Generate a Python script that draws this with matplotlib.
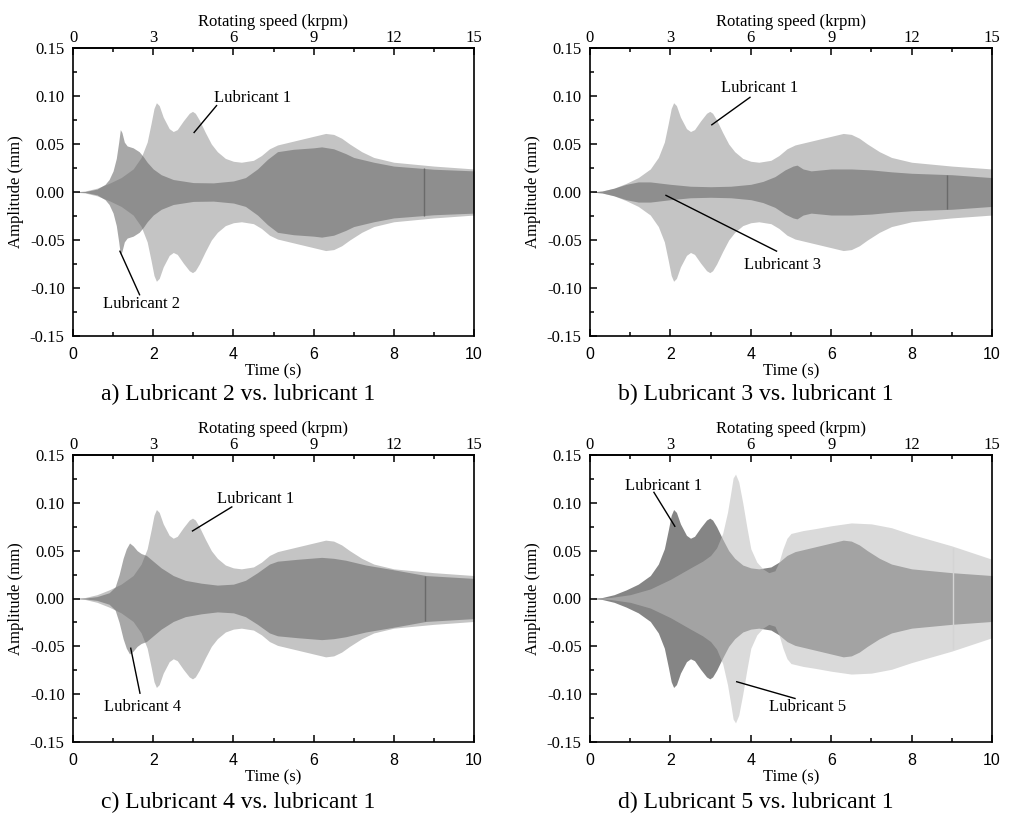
import numpy as np
import matplotlib
matplotlib.use("Agg")
from matplotlib import pyplot as plt
from matplotlib.ticker import MultipleLocator, FixedLocator

plt.rcParams['font.family'] = ['Liberation Serif', 'DejaVu Serif']
plt.rcParams['axes.unicode_minus'] = False

# envelope of the response (upper half, the plot is symmetric)
t_lub1 = [0, 0.3, 0.6, 0.9, 1.2, 1.5, 1.7, 1.85, 1.95, 2.02, 2.08, 2.15, 2.25, 2.4, 2.5,
          2.6, 2.75, 2.9, 2.98, 3.05, 3.15, 3.3, 3.45, 3.6, 3.8, 4.0, 4.2, 4.5, 4.7, 4.9,
          5.1, 5.4, 5.7, 6.0, 6.3, 6.5, 6.7, 6.9, 7.2, 7.5, 8.0, 8.5, 9.0, 9.5, 10.0]
amp_lub1 = [0, 0.001, 0.004, 0.009, 0.015, 0.024, 0.036, 0.052, 0.072, 0.087, 0.093, 0.09,
            0.078, 0.066, 0.063, 0.065, 0.074, 0.082, 0.084, 0.082, 0.075, 0.062, 0.05, 0.042,
            0.035, 0.032, 0.031, 0.033, 0.038, 0.045, 0.049, 0.052, 0.055, 0.058, 0.061, 0.060,
            0.056, 0.050, 0.042, 0.036, 0.031, 0.029, 0.027, 0.0255, 0.024]

t_lub2 = [0, 0.3, 0.6, 0.8, 0.9, 1.0, 1.08, 1.14, 1.18, 1.22, 1.28, 1.35, 1.5, 1.65, 1.75,
          1.85, 2.0, 2.2, 2.5, 3.0, 3.5, 4.0, 4.3, 4.6, 4.85, 5.1, 5.5, 6.0, 6.2, 6.5, 6.8,
          7.0, 7.5, 8.0, 9.0, 10.0]
amp_lub2 = [0, 0.0005, 0.003, 0.008, 0.013, 0.022, 0.035, 0.052, 0.065, 0.062, 0.052, 0.048,
            0.046, 0.042, 0.037, 0.031, 0.024, 0.018, 0.013, 0.0098, 0.0095, 0.0115, 0.015,
            0.024, 0.034, 0.042, 0.0445, 0.046, 0.047, 0.045, 0.040, 0.036, 0.031, 0.027,
            0.0237, 0.022]

t_lub3 = [0, 0.3, 0.6, 0.9, 1.2, 1.5, 2.0, 2.5, 3.0, 3.5, 4.0, 4.3, 4.6, 4.85, 5.05, 5.15,
          5.3, 5.5, 6.0, 6.5, 7.0, 7.5, 8.0, 9.0, 10.0]
amp_lub3 = [0, 0.001, 0.004, 0.008, 0.0105, 0.0105, 0.008, 0.006, 0.0055, 0.006, 0.008,
            0.011, 0.016, 0.023, 0.027, 0.028, 0.024, 0.022, 0.024, 0.024, 0.023, 0.021,
            0.0195, 0.018, 0.015]

t_lub4 = [0, 0.3, 0.6, 0.9, 1.05, 1.15, 1.25, 1.33, 1.41, 1.5, 1.6, 1.7, 1.83, 2.0, 2.2,
          2.5, 2.8, 3.2, 3.6, 4.0, 4.3, 4.6, 4.9, 5.1, 5.6, 6.2, 6.5, 6.8, 7.3, 8.0, 8.8, 10.0]
amp_lub4 = [0, 0.0005, 0.002, 0.006, 0.012, 0.025, 0.042, 0.052, 0.058, 0.055, 0.05, 0.047,
            0.045, 0.039, 0.032, 0.024, 0.019, 0.016, 0.014, 0.015, 0.019, 0.027, 0.036,
            0.039, 0.041, 0.043, 0.042, 0.040, 0.035, 0.030, 0.024, 0.021]

t_lub5 = [0, 0.5, 1.0, 1.5, 2.0, 2.5, 2.8, 3.0, 3.15, 3.3, 3.42, 3.5, 3.56, 3.62, 3.7, 3.8,
          3.9, 4.0, 4.15, 4.3, 4.45, 4.6, 4.7, 4.8, 4.9, 5.0, 5.3, 5.6, 6.0, 6.5, 7.0, 7.5,
          8.0, 8.5, 9.0, 9.5, 10.0]
amp_lub5 = [0, 0.001, 0.004, 0.01, 0.02, 0.032, 0.039, 0.045, 0.053, 0.068, 0.09, 0.11,
            0.126, 0.13, 0.122, 0.1, 0.075, 0.052, 0.038, 0.031, 0.027, 0.029, 0.038, 0.052,
            0.063, 0.068, 0.071, 0.073, 0.076, 0.079, 0.078, 0.074, 0.067, 0.061, 0.055,
            0.048, 0.041]

# short spike in each record (time, half height)
glitch_t = [8.75, 8.88, 8.78, 9.03]
glitch_amp = [0.025, 0.018, 0.024, 0.053]

captions = ["a) Lubricant 2 vs. lubricant 1", "b) Lubricant 3 vs. lubricant 1",
            "c) Lubricant 4 vs. lubricant 1", "d) Lubricant 5 vs. lubricant 1"]
others = [(t_lub2, amp_lub2, "Lubricant 2"), (t_lub3, amp_lub3, "Lubricant 3"),
          (t_lub4, amp_lub4, "Lubricant 4"), (t_lub5, amp_lub5, "Lubricant 5")]

# label positions / leader lines: (text x, text y, line x0, y0, x1, y1)
lab1 = [(4.49, 0.098, 3.02, 0.062, 3.58, 0.090),
        (4.21, 0.108, 3.03, 0.070, 3.98, 0.0986),
        (4.55, 0.1037, 2.98, 0.0706, 3.96, 0.0957),
        (1.82, 0.118, 2.11, 0.0755, 1.59, 0.111)]
lab2 = [(1.72, -0.117, 1.17, -0.0617, 1.66, -0.107),
        (4.80, -0.076, 1.89, -0.0035, 4.64, -0.0616),
        (1.73, -0.113, 1.44, -0.052, 1.67, -0.099),
        (5.40, -0.113, 3.65, -0.087, 5.10, -0.1045)]

W, H = 1013, 814
fig = plt.figure(figsize=(W / 100, H / 100), dpi=100)
boxes = [(73, 48, 474, 336), (590, 48, 992, 336), (73, 455, 474, 742), (590, 455, 992, 742)]
cap_pos = [(238, 394), (756, 394), (238, 802), (756, 802)]
fs = 12

for i in range(4):
    l, t, r, b = boxes[i]
    ax = fig.add_axes([l / W, 1 - b / H, (r - l) / W, (b - t) / H])
    tt, aa, name = others[i]
    if i < 3:
        ax.fill_between(t_lub1, -np.array(amp_lub1), amp_lub1, color='#c4c4c4', lw=0)
        ax.fill_between(tt, -np.array(aa), aa, color='#646464', alpha=0.56, lw=0)
        ax.vlines(glitch_t[i], -glitch_amp[i], glitch_amp[i], color='#6a6a6a', lw=1)
    else:
        ax.fill_between(t_lub1, -np.array(amp_lub1), amp_lub1, color='#858585', lw=0)
        ax.fill_between(tt, -np.array(aa), aa, color='#bcbcbc', alpha=0.55, lw=0)
        ax.vlines(glitch_t[i], -glitch_amp[i], glitch_amp[i], color='#d4d4d4', lw=1)

    ax.set_xlim(0, 10)
    ax.set_ylim(-0.15, 0.15)
    ax.xaxis.set_major_locator(MultipleLocator(2))
    ax.xaxis.set_minor_locator(MultipleLocator(1))
    ax.yaxis.set_major_locator(MultipleLocator(0.05))
    ax.yaxis.set_minor_locator(MultipleLocator(0.025))
    ax.set_yticks(ax.get_yticks())
    ax.set_ylim(-0.15, 0.15)
    ax.set_yticklabels(['%.2f' % v for v in ax.get_yticks()])
    ax.tick_params(which='both', direction='in', width=1.1, top=False, right=False)
    ax.tick_params(which='major', length=5)
    ax.tick_params(which='minor', length=3)
    ax.tick_params(axis='y', labelsize=fs, pad=6)
    ax.tick_params(axis='x', labelsize=11.5, pad=8)
    for lbl in ax.get_xticklabels():
        lbl.set_fontfamily('Liberation Sans')
    for s in ax.spines.values():
        s.set_linewidth(1.2)

    sec = ax.secondary_xaxis('top', functions=(lambda x: x * 1.5, lambda x: x / 1.5))
    sec.xaxis.set_major_locator(FixedLocator([0, 3, 6, 9, 12, 15]))
    sec.xaxis.set_minor_locator(MultipleLocator(1.5))
    sec.tick_params(which='both', direction='in', width=1.1, labelsize=fs, pad=1.5)
    sec.tick_params(which='major', length=5)
    sec.tick_params(which='minor', length=3)
    sec.spines['top'].set_linewidth(1.2)
    sec.set_xlabel('Rotating speed (krpm)', fontsize=fs, labelpad=3)

    ax.set_xlabel('Time (s)', fontsize=fs, labelpad=1)
    ax.set_ylabel('Amplitude (mm)', fontsize=fs, labelpad=4)

    for (tx, ty, x0, y0, x1, y1), txt in [(lab1[i], 'Lubricant 1'), (lab2[i], name)]:
        ax.plot([x0, x1], [y0, y1], color='black', lw=1.0)
        ax.text(tx, ty, txt, fontsize=fs, ha='center', va='center')

    cx, cy = cap_pos[i]
    fig.text(cx / W, 1 - cy / H, captions[i], fontsize=17, ha='center', va='center')

fig.savefig('out.png', dpi=100, facecolor='white')
